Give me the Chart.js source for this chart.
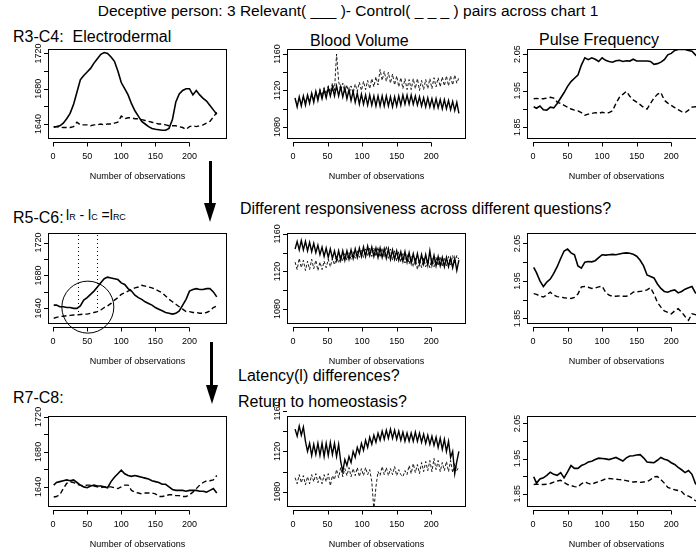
<!DOCTYPE html>
<html>
<head>
<meta charset="utf-8">
<script src="https://cdn.jsdelivr.net/npm/chart.js@4.4.1/dist/chart.umd.min.js"></script>
<style>
html, body { margin: 0; padding: 0; background: #fff; }
body { width: 696px; height: 552px; position: relative; overflow: hidden; font-family: "Liberation Sans", Arial, sans-serif; color: #000; }
canvas { position: absolute; }
.t { position: absolute; white-space: pre; line-height: 1; color: #000; }
.sub { font-size: 9px; }
</style>
</head>
<body>
<div class="t" id="mainTitle" style="left:0;width:696px;text-align:center;top:3px;font-size:15.5px">Deceptive person: 3 Relevant( ___ )- Control( _ _ _ ) pairs across chart 1</div>
<div class="t" style="left:13px;top:28.5px;font-size:16px">R3-C4:  Electrodermal</div>
<div class="t" style="left:310px;top:33px;font-size:16px">Blood Volume</div>
<div class="t" style="left:539px;top:31.5px;font-size:16px">Pulse Frequency</div>
<div class="t" style="left:240px;top:201px;font-size:16px">Different responsiveness across different questions?</div>
<div class="t" style="left:13px;top:209.5px;font-size:16px">R5-C6:</div>
<div class="t" style="left:66px;top:208px;font-size:14px">l<span class="sub">R</span> - l<span class="sub">C</span> =l<span class="sub">RC</span></div>
<div class="t" style="left:238px;top:367.5px;font-size:16px">Latency(l) differences?</div>
<div class="t" style="left:238px;top:393.5px;font-size:16px">Return to homeostasis?</div>
<div class="t" style="left:13px;top:389.5px;font-size:16px">R7-C8:</div>

<div style="position:absolute;left:208.5px;top:161px;width:3px;height:45px;background:#000"></div>
<div style="position:absolute;left:204px;top:203px;width:0;height:0;border-left:6px solid transparent;border-right:6px solid transparent;border-top:19px solid #000"></div>
<div style="position:absolute;left:210px;top:342px;width:3px;height:46px;background:#000"></div>
<div style="position:absolute;left:205.5px;top:385px;width:0;height:0;border-left:6px solid transparent;border-right:6px solid transparent;border-top:19px solid #000"></div>

<script>
// observation index (x) for the smooth channels and for blood volume
var obs = [1,5,10,15,20,25,30,35,40,45,50,55,60,65,70,75,80,85,90,95,100,105,110,115,120,125,130,135,140,145,150,155,160,165,170,175,180,185,190,195,200,205,210,215,220,225,230,235,240];
var obsBv = [3,6,9,12,15,18,21,24,27,30,33,36,39,42,45,48,51,54,57,60,63,66,69,72,75,78,81,84,87,90,93,96,99,102,105,108,111,114,117,120,123,126,129,132,135,138,141,144,147,150,153,156,159,162,165,168,171,174,177,180,183,186,189,192,195,198,201,204,207,210,213,216,219,222,225,228,231,234,237,240];

var xTicks = [0, 50, 100, 150, 200];
var edaTicks = [1640, 1660, 1680, 1700, 1720];
var edaLabels = [1640, 1680, 1720];
var bvTicks = [1080, 1100, 1120, 1140, 1160];
var bvLabels = [1080, 1120, 1160];
var pfTicks = [1.85, 1.90, 1.95, 2.00, 2.05];
var pfLabels = [1.85, 1.95, 2.05];

// R3-C4 (relevant = solid, control = dashed)
var r1Eda = [1636.5,1637,1638,1641,1646,1652,1662,1676,1690,1695,1699,1703,1709,1714,1719,1721,1720,1716,1711,1700,1687,1680,1673,1663,1655,1649,1643,1640,1637,1635,1634,1633.5,1633,1633,1635,1645,1665,1674,1678,1680,1680,1673,1678,1673,1669,1666,1661,1656,1651];
var r1EdaC = [1637,1637,1636.5,1636,1636,1636,1637,1642,1639,1639,1639,1638,1639,1639,1640,1639,1640,1640,1641,1642,1649,1646,1647,1647,1646,1646,1645,1644,1643,1642,1641,1640,1640,1639,1638,1638,1638,1637,1636,1634,1637,1638,1637,1638,1639,1641,1643,1648,1653];
var r1Bv = [1112,1102,1113,1103,1114,1104,1115,1106,1117,1107,1119,1109,1120,1111,1121,1112,1123,1114,1124,1114,1125,1114,1124,1113,1123,1111,1121,1109,1119,1107,1117,1105,1116,1105,1115,1104,1115,1104,1114,1103,1114,1103,1114,1103,1114,1103,1113,1102,1113,1103,1114,1104,1115,1105,1115,1105,1115,1105,1114,1104,1113,1103,1112,1102,1112,1102,1111,1101,1111,1101,1110,1100,1110,1100,1109,1099,1108,1098,1107,1095];
var r1BvC = [1110,1104,1112,1105,1113,1107,1115,1108,1117,1110,1119,1112,1121,1114,1123,1116,1125,1118,1128,1120,1160,1130,1120,1128,1118,1126,1116,1125,1117,1127,1119,1129,1120,1130,1121,1131,1122,1133,1124,1135,1126,1143,1131,1141,1130,1140,1128,1138,1126,1136,1124,1134,1122,1133,1121,1132,1121,1133,1122,1133,1120,1131,1121,1132,1122,1133,1122,1134,1124,1134,1124,1135,1125,1136,1125,1136,1126,1137,1128,1134];
var r1Pf = [1.906,1.902,1.908,1.898,1.897,1.905,1.903,1.915,1.93,1.945,1.962,1.975,1.984,1.993,2.02,2.04,2.035,2.04,2.036,2.03,2.04,2.033,2.03,2.028,2.032,2.033,2.03,2.032,2.031,2.036,2.031,2.031,2.031,2.031,2.03,2.022,2.024,2.028,2.035,2.048,2.052,2.06,2.063,2.063,2.063,2.06,2.058,2.048,2.04];
var r1PfC = [1.928,1.929,1.928,1.928,1.93,1.932,1.93,1.919,1.915,1.91,1.905,1.9,1.897,1.895,1.89,1.883,1.886,1.888,1.89,1.888,1.891,1.889,1.89,1.895,1.915,1.932,1.94,1.948,1.935,1.925,1.919,1.912,1.904,1.9,1.915,1.93,1.94,1.945,1.924,1.916,1.91,1.904,1.898,1.893,1.89,1.897,1.905,1.906,1.905];

// R5-C6
var r2Eda = [1644,1644,1642,1642,1641,1641,1640,1640,1643,1650,1653,1657,1661,1666,1671,1676,1678,1677,1676,1675,1671,1669,1664,1661,1656,1653,1651,1648,1646,1644,1641,1639,1637,1635,1634,1633,1634,1637,1644,1651,1661,1663,1664,1663,1663,1664,1664,1660,1654];
var r2EdaC = [1628,1629,1630,1630.5,1631,1631.5,1632,1632,1632.5,1633,1633,1634,1635,1636,1638,1641,1643,1646,1650,1653,1657,1659,1661,1663,1665,1666,1668,1667,1666,1665,1663,1661,1659,1655,1651,1648,1645,1642,1639,1636,1636,1635,1635,1634,1634,1635,1637,1641,1643];
var r2Bv = [1144,1152,1143,1153,1143,1152,1142,1151,1141,1150,1140,1148,1138,1146,1136,1145,1135,1144,1134,1142,1132,1142,1132,1142,1132,1142,1133,1143,1134,1144,1135,1145,1136,1146,1136,1147,1137,1146,1136,1145,1135,1145,1135,1144,1134,1144,1133,1143,1133,1142,1132,1141,1131,1141,1130,1140,1129,1139,1129,1139,1128,1138,1128,1138,1127,1142,1127,1137,1126,1136,1126,1135,1125,1135,1125,1134,1124,1134,1121,1132];
var r2BvC = [1130,1122,1134,1124,1132,1121,1131,1122,1133,1123,1132,1121,1130,1122,1131,1124,1133,1125,1134,1127,1136,1129,1137,1131,1139,1132,1140,1133,1141,1134,1142,1135,1143,1135,1144,1136,1145,1136,1145,1136,1146,1135,1145,1135,1147,1134,1144,1132,1142,1131,1141,1130,1139,1129,1138,1128,1136,1125,1134,1122,1133,1124,1134,1125,1133,1124,1134,1125,1135,1126,1136,1125,1135,1126,1136,1127,1137,1128,1137,1133];
var r2Pf = [1.986,1.972,1.95,1.935,1.947,1.955,1.97,1.988,2.01,2.03,2.035,2.025,2.02,1.99,1.984,2.0,2.002,2.001,2.004,2.012,2.02,2.019,2.02,2.021,2.02,2.022,2.024,2.025,2.024,2.021,2.016,2.005,1.99,1.966,1.962,1.958,1.942,1.93,1.922,1.92,1.924,1.926,1.918,1.922,1.928,1.932,1.935,1.918,1.915];
var r2PfC = [1.916,1.914,1.91,1.907,1.913,1.92,1.912,1.908,1.907,1.905,1.904,1.903,1.906,1.915,1.934,1.935,1.933,1.93,1.931,1.934,1.936,1.92,1.912,1.909,1.909,1.91,1.909,1.909,1.913,1.92,1.921,1.922,1.923,1.926,1.932,1.915,1.893,1.88,1.87,1.866,1.862,1.87,1.876,1.867,1.855,1.845,1.862,1.86,1.855];

// R7-C8
var r3Eda = [1642,1645,1646,1647,1648,1647,1648,1645,1642,1640,1639,1641,1642,1641,1641,1640,1639,1646,1651,1655,1659,1655,1653,1652,1653,1652,1651,1650,1649,1647,1646,1645,1643,1643,1640,1637,1636,1636,1636,1635,1636,1636,1636,1635,1635,1634,1636,1638,1633];
var r3EdaC = [1628.5,1629,1631,1638,1644,1646,1645,1643,1642,1641,1642,1642,1641,1640,1639,1640,1640,1640,1639,1638,1640,1642,1642,1636,1634,1633,1632,1633,1633,1633,1632,1629,1629,1630,1631,1631,1630,1630,1629,1629,1631,1634,1638,1642,1645,1647,1647,1648,1653];
var r3Bv = [1142,1135,1145,1136,1144,1130,1120,1128,1116,1127,1117,1128,1116,1128,1115,1128,1116,1129,1117,1128,1115,1127,1110,1100,1112,1106,1115,1109,1120,1114,1124,1118,1128,1121,1131,1124,1134,1127,1136,1129,1138,1131,1140,1132,1141,1133,1142,1133,1141,1132,1140,1131,1139,1130,1138,1130,1138,1130,1139,1130,1138,1129,1137,1128,1136,1127,1135,1126,1134,1124,1133,1122,1132,1120,1130,1114,1120,1098,1110,1120];
var r3BvC = [1094,1088,1097,1089,1096,1087,1095,1088,1097,1090,1098,1089,1096,1088,1097,1090,1098,1086,1096,1092,1102,1094,1104,1095,1103,1096,1104,1095,1103,1096,1104,1095,1103,1096,1104,1097,1102,1090,1062,1085,1100,1096,1105,1097,1104,1096,1103,1097,1105,1096,1102,1097,1095,1101,1097,1106,1098,1108,1099,1107,1098,1109,1100,1110,1101,1111,1100,1113,1102,1111,1100,1109,1101,1110,1100,1111,1099,1108,1101,1105];
var r3Pf = [1.898,1.88,1.892,1.895,1.902,1.911,1.905,1.902,1.91,1.895,1.912,1.93,1.922,1.922,1.93,1.934,1.94,1.942,1.947,1.951,1.95,1.949,1.947,1.95,1.953,1.948,1.943,1.952,1.957,1.958,1.96,1.961,1.952,1.94,1.939,1.938,1.945,1.953,1.948,1.945,1.938,1.933,1.925,1.918,1.91,1.916,1.905,1.879,1.87];
var r3PfC = [1.876,1.877,1.876,1.876,1.877,1.879,1.883,1.886,1.888,1.882,1.876,1.873,1.87,1.869,1.878,1.883,1.879,1.876,1.881,1.884,1.888,1.892,1.893,1.892,1.891,1.89,1.889,1.887,1.885,1.883,1.884,1.882,1.883,1.884,1.89,1.898,1.899,1.89,1.88,1.868,1.864,1.861,1.859,1.856,1.846,1.843,1.838,1.83,1.828];

// layout of the 3x3 grid (plot box in page pixels)
var cols = [{left: 48, w: 179, xmin: -7.4, xmax: 255}, {left: 287, w: 179, xmin: -8.7, xmax: 250.3}, {left: 527, w: 179, xmin: -8.7, xmax: 250.3}];
var rows = [{top: 49, h: 90}, {top: 233, h: 91}, {top: 416, h: 91}];
var PADL = 40, PADT = 14, PADR = 14, PADB = 48;

var panels = [
  {r: 0, c: 0, xs: obs, rel: r1Eda, ctl: r1EdaC, kind: "eda", ymin: 1623, ymax: 1725},
  {r: 0, c: 1, xs: obsBv, rel: r1Bv, ctl: r1BvC, kind: "bv", ymin: 1066.8, ymax: 1165.5},
  {r: 0, c: 2, xs: obs, rel: r1Pf, ctl: r1PfC, kind: "pf", ymin: 1.818, ymax: 2.064},
  {r: 1, c: 0, xs: obs, rel: r2Eda, ctl: r2EdaC, kind: "eda", ymin: 1621, ymax: 1731.6, latency: true},
  {r: 1, c: 1, xs: obsBv, rel: r2Bv, ctl: r2BvC, kind: "bv", ymin: 1064, ymax: 1161},
  {r: 1, c: 2, xs: obs, rel: r2Pf, ctl: r2PfC, kind: "pf", ymin: 1.835, ymax: 2.078},
  {r: 2, c: 0, xs: obs, rel: r3Eda, ctl: r3EdaC, kind: "eda", ymin: 1617, ymax: 1721},
  {r: 2, c: 1, xs: obsBv, rel: r3Bv, ctl: r3BvC, kind: "bv", ymin: 1065, ymax: 1155},
  {r: 2, c: 2, xs: obs, rel: r3Pf, ctl: r3PfC, kind: "pf", ymin: 1.812, ymax: 2.071}
];

var axisInfo = {
  eda: {ticks: edaTicks, labels: edaLabels, dec: 0},
  bv: {ticks: bvTicks, labels: bvLabels, dec: 0},
  pf: {ticks: pfTicks, labels: pfLabels, dec: 2}
};

var FONT = '"Liberation Sans", Arial, sans-serif';

// R style box and axes (detached x axis, rotated y labels)
var rAxes = {
  id: "rAxes",
  afterDraw: function(chart, args, opts) {
    var ctx = chart.ctx, a = chart.chartArea;
    var xs = chart.scales.x, ys = chart.scales.y;
    ctx.save();
    ctx.strokeStyle = "#000";
    ctx.fillStyle = "#000";
    ctx.lineWidth = 1;
    ctx.strokeRect(a.left + 0.5, a.top + 0.5, a.right - a.left - 1, a.bottom - a.top - 1);

    // x axis
    var y0 = a.bottom + 3.5;
    ctx.beginPath();
    ctx.moveTo(xs.getPixelForValue(xTicks[0]), y0);
    ctx.lineTo(xs.getPixelForValue(xTicks[xTicks.length - 1]), y0);
    xTicks.forEach(function(v) {
      var px = Math.round(xs.getPixelForValue(v)) + 0.5;
      ctx.moveTo(px, y0);
      ctx.lineTo(px, y0 + 4);
    });
    ctx.stroke();
    ctx.font = "9px " + FONT;
    ctx.textAlign = "center";
    ctx.textBaseline = "middle";
    xTicks.forEach(function(v) {
      ctx.fillText(String(v), xs.getPixelForValue(v), a.bottom + 17.5);
    });
    ctx.fillText("Number of observations", (a.left + a.right) / 2, a.bottom + 38);

    // y axis
    ctx.beginPath();
    opts.ticks.forEach(function(v) {
      var py = Math.round(ys.getPixelForValue(v)) + 0.5;
      ctx.moveTo(a.left, py);
      ctx.lineTo(a.left - 4, py);
    });
    ctx.stroke();
    opts.labels.forEach(function(v) {
      ctx.save();
      ctx.translate(a.left - 9, ys.getPixelForValue(v));
      ctx.rotate(-Math.PI / 2);
      ctx.fillText(v.toFixed(opts.dec), 0, 0);
      ctx.restore();
    });
    ctx.restore();
  }
};

// latency marks on R5-C6: two dotted lines and a circle
var latencyMarks = {
  id: "latencyMarks",
  afterDraw: function(chart, args, opts) {
    if (!opts.show) return;
    var ctx = chart.ctx, a = chart.chartArea;
    var xs = chart.scales.x, ys = chart.scales.y;
    ctx.save();
    ctx.strokeStyle = "#000";
    ctx.lineWidth = 1;
    ctx.setLineDash([1, 3]);
    opts.lines.forEach(function(v) {
      var px = Math.round(xs.getPixelForValue(v)) + 0.5;
      ctx.beginPath();
      ctx.moveTo(px, a.top + 2);
      ctx.lineTo(px, ys.getPixelForValue(opts.lineEnd));
      ctx.stroke();
    });
    ctx.setLineDash([]);
    ctx.beginPath();
    ctx.arc(xs.getPixelForValue(opts.cx), ys.getPixelForValue(opts.cy), 26, 0, Math.PI * 2);
    ctx.stroke();
    ctx.restore();
  }
};

function toXY(xs, ys) {
  var out = [];
  for (var i = 0; i < xs.length; i++) {
    out.push({x: xs[i], y: ys[i]});
  }
  return out;
}

panels.forEach(function(p) {
  var col = cols[p.c], row = rows[p.r];
  var cv = document.createElement("canvas");
  var w = PADL + col.w + PADR, h = PADT + row.h + PADB;
  cv.width = w;
  cv.height = h;
  cv.style.left = (col.left - PADL) + "px";
  cv.style.top = (row.top - PADT) + "px";
  cv.style.width = w + "px";
  cv.style.height = h + "px";
  document.body.appendChild(cv);

  var bv = p.kind === "bv";
  var info = axisInfo[p.kind];
  new Chart(cv, {
    type: "line",
    data: {
      datasets: [
        {data: toXY(p.xs, p.rel), borderColor: "#000", borderWidth: bv ? 1.4 : 1.6, pointRadius: 0, tension: 0, fill: false},
        {data: toXY(p.xs, p.ctl), borderColor: "#000", borderWidth: bv ? 0.9 : 1.4,
         borderDash: bv ? [3, 2] : [5, 3], pointRadius: 0, tension: 0, fill: false}
      ]
    },
    options: {
      responsive: false,
      animation: false,
      events: [],
      layout: {padding: {left: PADL, top: PADT, right: PADR, bottom: PADB}},
      scales: {
        x: {type: "linear", display: false, min: col.xmin, max: col.xmax},
        y: {type: "linear", display: false, min: p.ymin, max: p.ymax}
      },
      plugins: {
        legend: {display: false},
        tooltip: {enabled: false},
        rAxes: {ticks: info.ticks, labels: info.labels, dec: info.dec},
        latencyMarks: {show: !!p.latency, lines: [36.8, 63.7], lineEnd: 1635, cx: 51, cy: 1641.5}
      }
    },
    plugins: [rAxes, latencyMarks]
  });
});
</script>
</body>
</html>
